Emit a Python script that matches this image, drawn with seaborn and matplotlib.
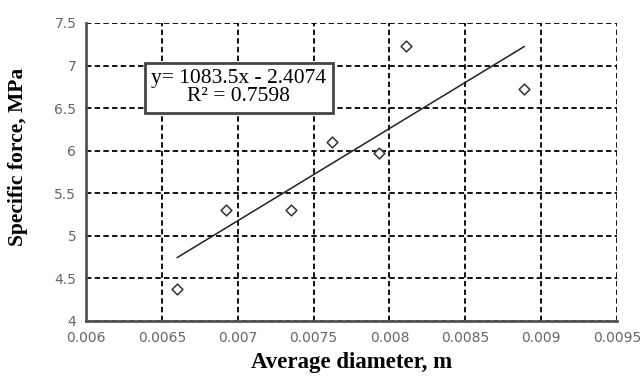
import numpy as np
import pandas as pd
import matplotlib.pyplot as plt
import seaborn as sns

# Values
diameter = [0.00660, 0.00692, 0.00735, 0.00762, 0.00793, 0.00811, 0.00889]
force = [4.37, 5.30, 5.30, 6.10, 5.97, 7.23, 6.72]
slope = 1083.5
intercept = -2.4074
r2 = 0.7598

df = pd.DataFrame({'diameter': diameter, 'force': force})
trend_x = np.array([min(diameter), max(diameter)])
trend = pd.DataFrame({'diameter': trend_x, 'force': slope * trend_x + intercept})

sns.set_style('white')
plt.rcParams['font.family'] = ['Liberation Serif', 'DejaVu Serif']

fig = plt.figure(figsize=(6.44, 3.76), dpi=100)
ax = fig.add_axes([86 / 644, 1 - 321 / 376, 531 / 644, 298 / 376])

# Trend line and data points
sns.lineplot(data=trend, x='diameter', y='force', color='#222222', lw=1.1, ax=ax, zorder=3)
sns.scatterplot(data=df, x='diameter', y='force', marker='D', s=30,
                facecolor='white', edgecolor='#333333', linewidth=1.1, ax=ax, zorder=4)

ax.set_xlim(0.006, 0.0095)
ax.set_ylim(4, 7.5)
ax.set_xticks(np.arange(0.006, 0.00951, 0.0005))
ax.set_xticklabels(['0.006', '0.0065', '0.007', '0.0075', '0.008', '0.0085', '0.009', '0.0095'])
ax.set_yticks(np.arange(4, 7.51, 0.5))
ax.set_yticklabels(['4', '4.5', '5', '5.5', '6', '6.5', '7', '7.5'])

ax.grid(True, color='black', linestyle=(0, (3, 1.8)), linewidth=1.3)
ax.set_axisbelow(True)
for side in ['top', 'right']:
    ax.spines[side].set_visible(False)
for side in ['left', 'bottom']:
    ax.spines[side].set_color('#555555')
    ax.spines[side].set_linewidth(2)

ax.tick_params(axis='both', colors='#555555', length=3, width=1.2,
               direction='out', pad=4)
for lab in ax.get_xticklabels() + ax.get_yticklabels():
    lab.set_family(['DejaVu Sans'])
    lab.set_fontsize(10)
    lab.set_color('#666666')

ax.set_xlabel('Average diameter, m', fontsize=16.5, fontweight='bold', va='center', color='black')
ax.xaxis.set_label_coords(0.5, -0.138)
ax.set_ylabel('Specific force, MPa', fontsize=15.5, fontweight='bold', va='center', color='black')
ax.yaxis.set_label_coords(-0.128, 0.55)

# Equation box
ax.text(0.007008, 6.74, f'y= {slope}x - {abs(intercept)}\nR² = {r2}',
        ha='center', va='center', fontsize=15.5, linespacing=0.95, zorder=5, color='black',
        bbox=dict(boxstyle='square,pad=0.3', facecolor='white',
                  edgecolor='#444444', linewidth=2))

plt.savefig('out.png', dpi=100)
